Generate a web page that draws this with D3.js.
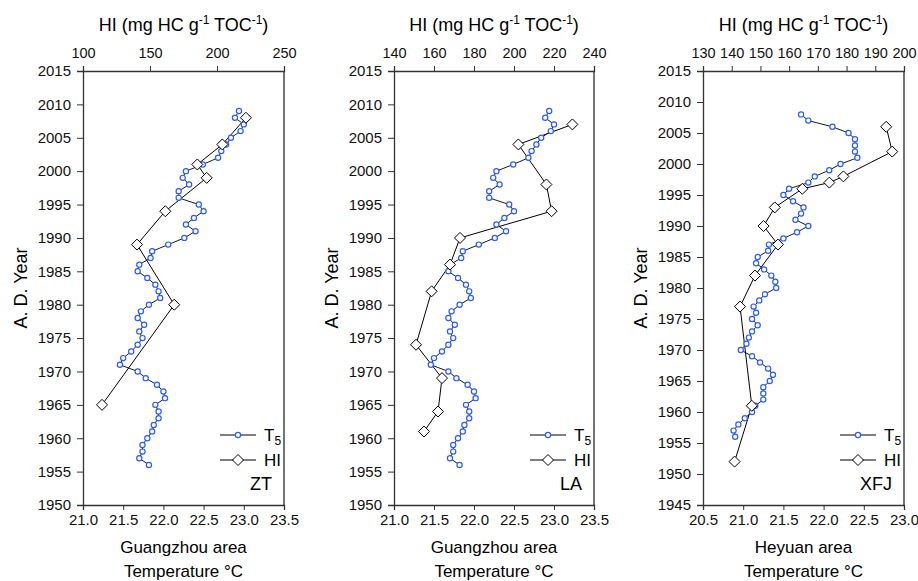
<!DOCTYPE html>
<html>
<head>
<meta charset="utf-8">
<script src="https://cdn.jsdelivr.net/npm/d3@7"></script>
<style>
  body { margin: 0; background: #fff; }
  svg { font-family: "Liberation Sans", Arial, sans-serif; }
</style>
</head>
<body>
<div id="okvir"></div>
<script>
// T5 temperature, Guangzhou area (2009 -> 1956)
const godineGZ = d3.range(2009, 1955, -1)
const t5Guangzhou = [22.94, 22.89, 23.00, 22.96, 22.84, 22.78, 22.72, 22.68, 22.49, 22.28,
  22.24, 22.32, 22.19, 22.19, 22.44, 22.50, 22.38, 22.28, 22.40, 22.26,
  22.06, 21.86, 21.84, 21.70, 21.68, 21.80, 21.90, 21.94, 21.96, 21.82,
  21.72, 21.68, 21.76, 21.70, 21.74, 21.68, 21.60, 21.50, 21.46, 21.68,
  21.78, 21.92, 22.00, 22.02, 21.90, 21.94, 21.94, 21.88, 21.86, 21.80,
  21.74, 21.74, 21.70, 21.82]

// T5 temperature, Heyuan area (2008 -> 1956)
const godineHY = d3.range(2008, 1955, -1)
const t5Heyuan = [21.72, 21.81, 22.11, 22.31, 22.39, 22.39, 22.39, 22.42, 22.21, 22.07,
  21.89, 21.81, 21.57, 21.50, 21.62, 21.75, 21.72, 21.65, 21.81, 21.67,
  21.50, 21.32, 21.31, 21.18, 21.16, 21.26, 21.35, 21.40, 21.41, 21.27,
  21.20, 21.13, 21.16, 21.11, 21.18, 21.11, 21.07, 21.04, 20.97, 21.11,
  21.21, 21.31, 21.37, 21.33, 21.25, 21.25, 21.25, 21.15, 21.11, 21.02,
  20.94, 20.88, 20.90]

// HI values per core
const godineZT = [2008, 2004, 2001, 1999, 1994, 1989, 1980, 1965]
const hiZT = [221.6, 204, 185.3, 192.3, 161.4, 140.3, 168.1, 114.2]
const godineLA = [2007, 2004, 1998, 1994, 1990, 1986, 1982, 1974, 1969, 1964, 1961]
const hiLA = [229.2, 202.2, 216.2, 218.8, 173, 168, 158.8, 151, 164, 162, 155]
const godineXFJ = [2006, 2002, 1998, 1997, 1996, 1993, 1990, 1987, 1982, 1977, 1961, 1952]
const hiXFJ = [193.8, 195.9, 178.9, 174.0, 164.6, 155.0, 151.1, 156.1, 148.1, 142.9, 147, 141.0]

const panels = [
  { ime: "ZT", podrucje: "Guangzhou area", lijevo: 83, desno: 284,
    godine: [1950, 2015], temp: [21.0, 23.5], hi: [100, 250], hiTicks: [100, 150, 200, 250],
    tGod: godineGZ, t5: t5Guangzhou, hGod: godineZT, hiVal: hiZT },
  { ime: "LA", podrucje: "Guangzhou area", lijevo: 394, desno: 594,
    godine: [1950, 2015], temp: [21.0, 23.5], hi: [140, 240], hiTicks: d3.range(140, 241, 20),
    tGod: godineGZ, t5: t5Guangzhou, hGod: godineLA, hiVal: hiLA },
  { ime: "XFJ", podrucje: "Heyuan area", lijevo: 703, desno: 904,
    godine: [1945, 2015], temp: [20.5, 23.0], hi: [130, 200], hiTicks: d3.range(130, 201, 10),
    tGod: godineHY, t5: t5Heyuan, hGod: godineXFJ, hiVal: hiXFJ },
]

const dimenzije = { sirina: 918, visina: 581, vrh: 71, dno: 505 }

const okvir = d3.select("#okvir").append("svg")
  .attr("width", dimenzije.sirina)
  .attr("height", dimenzije.visina)

const plava = "#2a5cff"
const romb = s => `M0,${-s}L${s},0L0,${s}L${-s},0Z`

panels.forEach(p => {
  const g = okvir.append("g")
  const sredina = (p.lijevo + p.desno) / 2

  const ySkala = d3.scaleLinear().domain(p.godine).range([dimenzije.dno, dimenzije.vrh])
  const tSkala = d3.scaleLinear().domain(p.temp).range([p.lijevo, p.desno])
  const hSkala = d3.scaleLinear().domain(p.hi).range([p.lijevo, p.desno])

  // right frame line
  g.append("line")
    .attr("x1", p.desno).attr("x2", p.desno)
    .attr("y1", dimenzije.vrh).attr("y2", dimenzije.dno)
    .attr("stroke", "#444").attr("stroke-width", 1.5)

  const yOs = g.append("g")
    .attr("transform", `translate(${p.lijevo},0)`)
    .call(d3.axisLeft(ySkala).tickValues(d3.range(p.godine[0], p.godine[1] + 1, 5))
      .tickSize(6).tickPadding(6).tickFormat(d3.format("d")))
  const xOs = g.append("g")
    .attr("transform", `translate(0,${dimenzije.dno})`)
    .call(d3.axisBottom(tSkala).ticks(6).tickSize(5).tickPadding(4).tickFormat(d3.format(".1f")))
  const hOs = g.append("g")
    .attr("transform", `translate(0,${dimenzije.vrh})`)
    .call(d3.axisTop(hSkala).tickValues(p.hiTicks).tickSize(5).tickPadding(8))

  ;[yOs, xOs].forEach(os => os.selectAll("text").style("font-size", "15px"))
  hOs.selectAll("text").style("font-size", "14.5px")
  ;[yOs, xOs, hOs].forEach(os => {
    os.selectAll("text").attr("fill", "#111")
    os.select(".domain").attr("stroke", "#333").attr("stroke-width", 1.3)
    os.selectAll(".tick line").attr("stroke", "#333")
  })

  // HI line + diamonds
  const hiPodaci = p.hGod.map((y, i) => ({ y, v: p.hiVal[i] }))
  g.append("path").datum(hiPodaci)
    .attr("fill", "none").attr("stroke", "#000").attr("stroke-width", 1)
    .attr("d", d3.line().x(d => hSkala(d.v)).y(d => ySkala(d.y)))

  // T5 line + circles
  const tPodaci = p.tGod.map((y, i) => ({ y, v: p.t5[i] }))
  g.append("path").datum(tPodaci)
    .attr("fill", "none").attr("stroke", "#000").attr("stroke-width", 0.9)
    .attr("d", d3.line().x(d => tSkala(d.v)).y(d => ySkala(d.y)))
  g.selectAll("circle.t5").data(tPodaci).join("circle")
    .attr("class", "t5")
    .attr("cx", d => tSkala(d.v)).attr("cy", d => ySkala(d.y))
    .attr("r", 2.6).attr("fill", "#fff").attr("stroke", plava).attr("stroke-width", 1.2)

  g.selectAll("path.hi").data(hiPodaci).join("path")
    .attr("class", "hi")
    .attr("transform", d => `translate(${hSkala(d.v)},${ySkala(d.y)})`)
    .attr("d", romb(5.5)).attr("fill", "#fff").attr("stroke", "#000").attr("stroke-width", 1)

  // legend
  const lx = p.desno - 64
  g.append("line").attr("x1", lx).attr("x2", lx + 36).attr("y1", 435).attr("y2", 435)
    .attr("stroke", "#000")
  g.append("circle").attr("cx", lx + 18).attr("cy", 435).attr("r", 2.6)
    .attr("fill", "#fff").attr("stroke", plava).attr("stroke-width", 1.2)
  const t5Txt = g.append("text").attr("x", lx + 44).attr("y", 441).style("font-size", "17px")
  t5Txt.append("tspan").text("T")
  t5Txt.append("tspan").attr("dy", 4).style("font-size", "12px").text("5")
  g.append("line").attr("x1", lx).attr("x2", lx + 36).attr("y1", 460).attr("y2", 460)
    .attr("stroke", "#000")
  g.append("path").attr("transform", `translate(${lx + 18},460)`).attr("d", romb(5.5))
    .attr("fill", "#fff").attr("stroke", "#000")
  g.append("text").attr("x", lx + 44).attr("y", 466).style("font-size", "17px").text("HI")
  g.append("text").attr("x", p.desno - 12).attr("y", 490).attr("text-anchor", "end")
    .style("font-size", "18px").text(p.ime)

  // titles
  const naslov = g.append("text").attr("x", sredina).attr("y", 31)
    .attr("text-anchor", "middle").style("font-size", "18px")
  naslov.append("tspan").text("HI (mg HC g")
  naslov.append("tspan").attr("dy", -7).style("font-size", "12px").text("-1")
  naslov.append("tspan").attr("dy", 7).text(" TOC")
  naslov.append("tspan").attr("dy", -7).style("font-size", "12px").text("-1")
  naslov.append("tspan").attr("dy", 7).text(")")

  g.append("text").attr("x", sredina).attr("y", 553).attr("text-anchor", "middle")
    .style("font-size", "17px").text(p.podrucje)
  g.append("text").attr("x", sredina).attr("y", 577).attr("text-anchor", "middle")
    .style("font-size", "17px").text("Temperature \u00B0C")

  g.append("text")
    .attr("transform", `translate(${p.lijevo - 56},${(dimenzije.vrh + dimenzije.dno) / 2}) rotate(-90)`)
    .attr("text-anchor", "middle").style("font-size", "18px").text("A. D. Year")
})
</script>
</body>
</html>
